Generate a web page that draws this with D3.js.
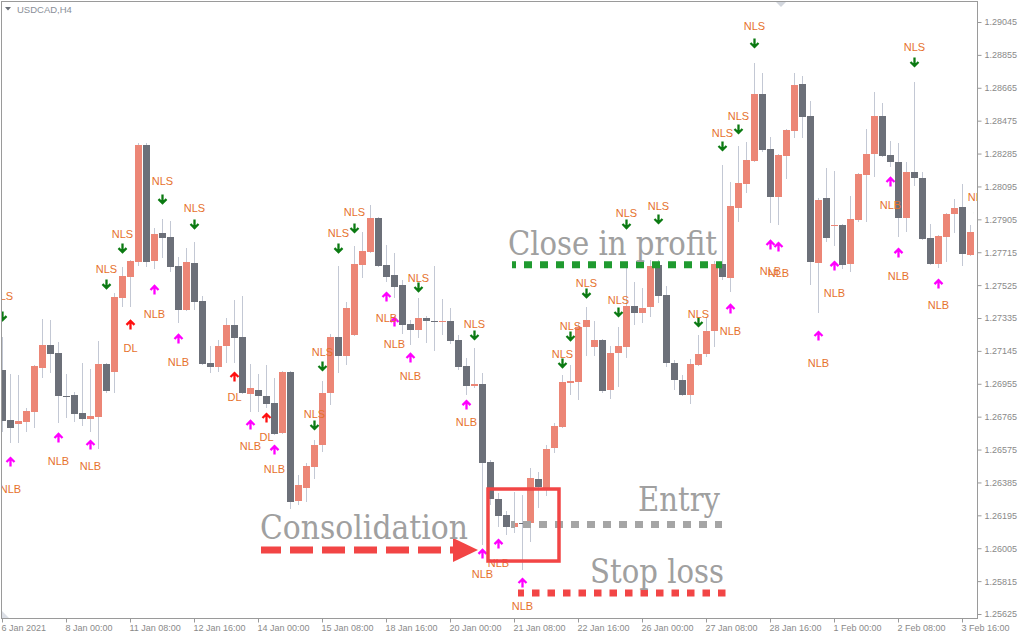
<!DOCTYPE html>
<html><head><meta charset="utf-8">
<script src="https://cdn.jsdelivr.net/npm/d3@7"></script>
<style>body{margin:0;background:#fff}svg{display:block}</style>
</head><body>
<svg id="c" width="1024" height="640"></svg>
<script>
// ---- data (USDCAD, H4) ----
const opens = [1.27035,1.26746,1.26723,1.26734,1.26792,1.27046,1.27179,1.27133,1.26884,1.26890,
1.26786,1.26751,1.26763,1.27069,1.27023,1.27451,1.27572,1.27658,1.28334,1.27664,
1.27826,1.27803,1.27635,1.27381,1.27653,1.27433,1.27075,1.27052,1.27173,1.27295,
1.27225,1.26896,1.26919,1.26884,1.26844,1.26671,1.27023,1.26278,1.26353,1.26474,
1.26601,1.26902,1.27225,1.27115,1.27237,1.27641,1.27716,1.27913,1.27641,1.27583,
1.27526,1.27300,1.27266,1.27335,1.27318,1.27312,1.27318,1.27208,1.27058,1.26942,
1.26954,1.26503,1.26289,1.26197,1.26128,1.26151,1.26151,1.26405,1.26353,1.26584,
1.26705,1.26959,1.26965,1.27283,1.27167,1.27208,1.26919,1.27133,1.27167,1.27404,
1.27364,1.27399,1.27641,1.27468,1.27075,1.26977,1.26890,1.27063,1.27127,1.27260,
1.27647,1.27566,1.27970,1.28109,1.28242,1.28629,1.28311,1.28034,1.28271,1.28415,
1.28687,1.28502,1.27653,1.28028,1.27866,1.27872,1.27647,1.27901,1.28161,1.28282,
1.28502,1.28277,1.28236,1.27913,1.28178,1.28144,1.27797,1.27647,1.27803,1.27936,
1.27976,1.27699];
const highs = [1.27225,1.27011,1.27006,1.26815,1.27063,1.27329,1.27323,1.27196,1.27011,1.26907,
1.27075,1.27040,1.27202,1.27075,1.27479,1.27630,1.27670,1.28346,1.28346,1.27855,
1.27907,1.27895,1.27687,1.27739,1.27774,1.27462,1.27173,1.27208,1.27335,1.27439,
1.27462,1.27069,1.27011,1.27063,1.26988,1.27029,1.27029,1.26428,1.26497,1.26630,
1.26971,1.27243,1.27635,1.27427,1.27751,1.27832,1.27988,1.27918,1.27757,1.27710,
1.27554,1.27323,1.27451,1.27346,1.27635,1.27445,1.27393,1.27237,1.27104,1.27162,
1.27017,1.26515,1.26324,1.26220,1.26330,1.26312,1.26468,1.26445,1.26601,1.26728,
1.27006,1.27063,1.27306,1.27399,1.27318,1.27214,1.27173,1.27283,1.27630,1.27543,
1.27508,1.27670,1.27670,1.27520,1.27092,1.27006,1.27098,1.27237,1.27335,1.27664,
1.28219,1.28121,1.28329,1.28352,1.28808,1.28750,1.28381,1.28282,1.28427,1.28750,
1.28733,1.28589,1.28028,1.28202,1.28184,1.27878,1.28040,1.28173,1.28427,1.28641,
1.28577,1.28357,1.28346,1.28236,1.28698,1.28178,1.27878,1.27814,1.27942,1.28022,
1.28109,1.27872];
const lows = [1.26676,1.26613,1.26613,1.26676,1.26700,1.26988,1.27017,1.26728,1.26757,1.26734,
1.26711,1.26676,1.26578,1.26902,1.26902,1.27399,1.27399,1.27635,1.27630,1.27618,
1.27682,1.27601,1.27306,1.27375,1.27381,1.27063,1.27017,1.27023,1.27075,1.27075,
1.26896,1.26792,1.26792,1.26815,1.26659,1.26665,1.26232,1.26255,1.26272,1.26405,
1.26561,1.26832,1.27017,1.27063,1.27231,1.27566,1.27710,1.27630,1.27543,1.27451,
1.27243,1.27179,1.27219,1.27191,1.27144,1.27237,1.27185,1.27035,1.26890,1.26931,
1.26024,1.26255,1.26128,1.26081,1.26093,1.25879,1.26041,1.26237,1.26307,1.26555,
1.26700,1.26890,1.26861,1.27115,1.27115,1.26902,1.26867,1.26936,1.27104,1.27295,
1.27306,1.27341,1.27422,1.27052,1.26919,1.26884,1.26838,1.27058,1.27110,1.27167,
1.27554,1.27485,1.27890,1.28057,1.28236,1.28294,1.27884,1.27872,1.28138,1.28375,
1.28375,1.27526,1.27364,1.27774,1.27751,1.27618,1.27601,1.27890,1.27890,1.28150,
1.28265,1.28207,1.27803,1.27832,1.28097,1.27786,1.27641,1.27624,1.27658,1.27826,
1.27635,1.27693];
const closes = [1.26740,1.26700,1.26740,1.26798,1.27058,1.27179,1.27127,1.26884,1.26884,1.26780,
1.26751,1.26769,1.27069,1.26913,1.27456,1.27578,1.27664,1.28334,1.27658,1.27820,
1.27797,1.27630,1.27381,1.27658,1.27427,1.27069,1.27052,1.27173,1.27295,1.27219,
1.26902,1.26931,1.26884,1.26838,1.26665,1.27023,1.26272,1.26370,1.26480,1.26601,
1.26902,1.27225,1.27115,1.27393,1.27647,1.27722,1.27913,1.27635,1.27572,1.27514,
1.27295,1.27266,1.27335,1.27318,1.27312,1.27318,1.27202,1.27052,1.26942,1.26954,
1.26497,1.26289,1.26191,1.26128,1.26151,1.26151,1.26411,1.26359,1.26578,1.26711,
1.26965,1.26971,1.27283,1.27323,1.27208,1.26913,1.27133,1.27173,1.27404,1.27364,
1.27393,1.27635,1.27462,1.27075,1.26977,1.26890,1.27069,1.27127,1.27260,1.27647,
1.27572,1.27982,1.28115,1.28248,1.28629,1.28305,1.28034,1.28277,1.28421,1.28681,
1.28496,1.27658,1.28017,1.27797,1.27872,1.27641,1.27907,1.28167,1.28282,1.28502,
1.28271,1.28236,1.27913,1.28178,1.28144,1.27791,1.27647,1.27809,1.27936,1.27970,
1.27705,1.27832];

const timeTickIndex = [0,8,16,24,32,40,48,56,64,72,80,88,96,104,112,120];
const timeTickLabels = ["6 Jan 2021","8 Jan 00:00","11 Jan 08:00","12 Jan 16:00","14 Jan 00:00","15 Jan 08:00","18 Jan 16:00","20 Jan 00:00","21 Jan 08:00","22 Jan 16:00","26 Jan 00:00","27 Jan 08:00","28 Jan 16:00","1 Feb 00:00","2 Feb 08:00","3 Feb 16:00"];
const priceTickLabels = ["1.29045","1.28855","1.28665","1.28475","1.28285","1.28095","1.27905","1.27715","1.27525","1.27335","1.27145","1.26955","1.26765","1.26575","1.26385","1.26195","1.26005","1.25815","1.25625"];

const signalType = ["NLS","NLB","NLB","NLB","NLS","NLS","DL","NLB","NLS","NLB","NLS","DL","NLB","DL","NLB","NLS","NLS","NLS","NLS","NLB","NLB","NLB","NLS","NLB","NLS","NLB","NLB","NLB","NLS","NLS","NLS","NLS","NLS","NLS","NLS","NLS","NLB","NLS","NLS","NLB","NLB","NLB","NLB","NLB","NLB","NLS","NLB","NLS"];
const signalBar = [0,1,7,11,13,15,16,19,20,22,24,29,31,33,34,39,40,42,44,48,49,51,52,58,59,60,62,65,70,71,73,77,78,82,87,90,91,92,94,96,97,102,104,111,112,114,117,122];
const signalArrowPrice = [1.27346,1.26503,1.26642,1.26601,1.27531,1.27739,1.27295,1.27497,1.28022,1.27214,1.27878,1.26994,1.26717,1.26757,1.26572,1.26717,1.27058,1.27739,1.27855,1.27456,1.27312,1.27104,1.27514,1.26832,1.27237,1.25972,1.26029,1.25804,1.27075,1.27231,1.27479,1.27370,1.27878,1.27907,1.27312,1.28329,1.27387,1.28427,1.28924,1.27757,1.27745,1.27231,1.27635,1.28121,1.27710,1.28814,1.27531,1.27947];
const signalLabelPrice = [1.27462,1.26347,1.26509,1.26480,1.27618,1.27820,1.27162,1.27358,1.28126,1.27081,1.27970,1.26879,1.26595,1.26648,1.26463,1.26780,1.27139,1.27826,1.27947,1.27335,1.27185,1.27000,1.27566,1.26734,1.27300,1.25856,1.25920,1.25671,1.27127,1.27289,1.27537,1.27439,1.27942,1.27982,1.27358,1.28404,1.27260,1.28502,1.29022,1.27606,1.27595,1.27075,1.27479,1.27988,1.27578,1.28901,1.27410,1.28034];

// trade annotation levels
const levelNames = ["Close in profit","Entry","Stop loss"];
const levelPrices = [1.27643,1.26142,1.25746];
const levelStartBar = [63.75,63.625,64.5];
const levelEndBar = [90,90,90.4375];
// consolidation zone
const consolBars = [60.75,69.625];
const consolPrices = [1.26347,1.25931];
const consolArrowBars = [32.375,59.5];
const consolArrowPrice = 1.25995;

// ---- drawing ----
const svg = d3.select("#c");
const x = d3.scaleLinear().domain([0, opens.length-1]).range([2, 970]);
const y = d3.scaleLinear().domain([+priceTickLabels[priceTickLabels.length-1], +priceTickLabels[0]]).range([614, 22]);

const UP="#ec8676", DOWN="#6c7079", WICK="#c3c8d4", AXIS="#9a9a9a", TXT="#8a8a8a";

const defs = svg.append("defs");
defs.append("clipPath").attr("id","clip")
  .append("rect").attr("x",1.5).attr("y",1.5).attr("width",976).attr("height",617);
defs.append("clipPath").attr("id","clipArrows")
  .append("rect").attr("x",1.5).attr("y",1.5).attr("width",972).attr("height",617);

const plot = svg.append("g").attr("clip-path","url(#clip)");
const bars = d3.range(opens.length);

plot.append("g").selectAll("rect").data(bars).join("rect")
  .attr("x", i=>Math.round(x(i)))
  .attr("width",1)
  .attr("y", i=>Math.round(y(highs[i])))
  .attr("height", i=>Math.max(1,Math.round(y(lows[i]))-Math.round(y(highs[i]))))
  .attr("fill",WICK);

plot.append("g").selectAll("rect").data(bars).join("rect")
  .attr("x", i=>Math.round(x(i))-3)
  .attr("width",7)
  .attr("y", i=>Math.round(y(Math.max(opens[i],closes[i]))))
  .attr("height", i=>Math.max(1,Math.round(y(Math.min(opens[i],closes[i])))-Math.round(y(Math.max(opens[i],closes[i])))))
  .attr("fill", i=>closes[i]>opens[i]?UP:DOWN);

// signals
const sig = d3.range(signalType.length);
const sigColor = t => t==="NLS" ? "#0b7a12" : (t==="DL" ? "#ff1010" : "#ff00ff");
plot.append("g").attr("clip-path","url(#clipArrows)").selectAll("path").data(sig).join("path")
  .attr("d", k=>{
    const cx = Math.round(x(signalBar[k]))+0.5, cy = y(signalArrowPrice[k]);
    if (signalType[k]==="NLS")
      return `M${cx-4},${cy} L${cx},${cy+4} L${cx+4},${cy} M${cx},${cy+3.5} L${cx},${cy-4.5}`;
    return `M${cx-4},${cy} L${cx},${cy-4} L${cx+4},${cy} M${cx},${cy-3.5} L${cx},${cy+4.5}`;
  })
  .attr("fill","none").attr("stroke",k=>sigColor(signalType[k]))
  .attr("stroke-width",2.3).attr("stroke-linejoin","miter");

plot.append("g").selectAll("text").data(sig).join("text")
  .attr("x", k=>Math.round(x(signalBar[k]))+0.5)
  .attr("y", k=>y(signalLabelPrice[k]))
  .attr("text-anchor","middle").attr("dominant-baseline","central")
  .attr("fill","#e6712c")
  .style("font","11px 'Liberation Sans', Arial, sans-serif")
  .text(k=>signalType[k]);

// axes
const yAxis = d3.axisRight(y)
  .tickValues(priceTickLabels.map(Number))
  .tickFormat((d,i)=>priceTickLabels[i]).tickSize(4).tickPadding(3);
const gy = svg.append("g").attr("transform","translate(977.5,0)").call(yAxis);
gy.select(".domain").remove();
gy.selectAll("line").attr("stroke",AXIS);
gy.selectAll("text").attr("fill",TXT).style("font","9px 'Liberation Sans', Arial, sans-serif");

const xAxis = d3.axisBottom(x)
  .tickValues(timeTickIndex)
  .tickFormat((d,i)=>timeTickLabels[i]).tickSize(4).tickPadding(2);
const gx = svg.append("g").attr("transform","translate(0,618.5)").call(xAxis);
gx.select(".domain").remove();
gx.selectAll("line").attr("stroke",AXIS);
gx.selectAll("text").attr("fill",TXT).attr("text-anchor","start").attr("dx",-1)
  .style("font","9px 'Liberation Sans', Arial, sans-serif");

// frame
svg.append("rect").attr("x",1.5).attr("y",1.5).attr("width",976).attr("height",617)
  .attr("fill","none").attr("stroke",AXIS);

// title & markers
svg.append("path").attr("d","M5,7 L11,7 L8,10.5 Z").attr("fill","#6b7078");
svg.append("text").attr("x",17).attr("y",13).attr("fill","#8a8f99")
  .style("font","9.5px 'Liberation Sans', Arial, sans-serif").text("USDCAD,H4");
svg.append("path").attr("d","M776,2 L786,2 L781,7 Z").attr("fill","#d3d7de");
svg.append("path").attr("d","M2,611 L2,618 L9,618 Z").attr("fill","#dcdfe6");

// ---- annotations ----
const ann = svg.append("g");
const serif = "34px 'DejaVu Serif', serif";
const levelColors = ["#1f9a2f","#a5a5a5","#f24545"];
const levelDash = ["8 8","8 8","7.5 8"];
const levelDashOffset = [4,4,1.5];
levelNames.forEach((name,k)=>{
  const ly = y(levelPrices[k]);
  const x0 = x(levelStartBar[k]), x1 = x(levelEndBar[k]);
  ann.append("line").attr("x1",x0).attr("x2",x1).attr("y1",ly).attr("y2",ly)
    .attr("stroke",levelColors[k]).attr("stroke-width",7)
    .attr("stroke-dasharray",levelDash[k]).attr("stroke-dashoffset",levelDashOffset[k]);
});
const lbl = (t, xx, yy, anchor, len) => ann.append("text")
  .attr("x",xx).attr("y",yy).attr("text-anchor",anchor)
  .attr("textLength",len).attr("lengthAdjust","spacingAndGlyphs")
  .attr("fill","#a0a0a0").style("font",serif).text(t);
lbl(levelNames[0], x(levelStartBar[0])-4, y(levelPrices[0])-10, "start", 209);
lbl(levelNames[1], x(levelEndBar[1])-2, y(levelPrices[1])-13.5, "end", 82);
lbl(levelNames[2], x(levelEndBar[2])-1.5, y(levelPrices[2])-10, "end", 134);

// consolidation box
ann.append("rect")
  .attr("x",x(consolBars[0])).attr("y",y(consolPrices[0]))
  .attr("width",x(consolBars[1])-x(consolBars[0]))
  .attr("height",y(consolPrices[1])-y(consolPrices[0]))
  .attr("fill","none").attr("stroke","#f24545").attr("stroke-width",3.5);

// consolidation arrow
const ay = y(consolArrowPrice);
const ax0 = x(consolArrowBars[0]), tip = x(consolArrowBars[1]);
ann.append("line").attr("x1",ax0).attr("x2",tip-25).attr("y1",ay).attr("y2",ay)
  .attr("stroke","#f24545").attr("stroke-width",7)
  .attr("stroke-dasharray","23 9").attr("stroke-dashoffset",3);
ann.append("path").attr("d",`M${tip-25},${ay-12} L${tip},${ay} L${tip-25},${ay+12} Z`).attr("fill","#f24545");
lbl("Consolidation", ax0-1, ay-11, "start", 208);
</script>
</body></html>
